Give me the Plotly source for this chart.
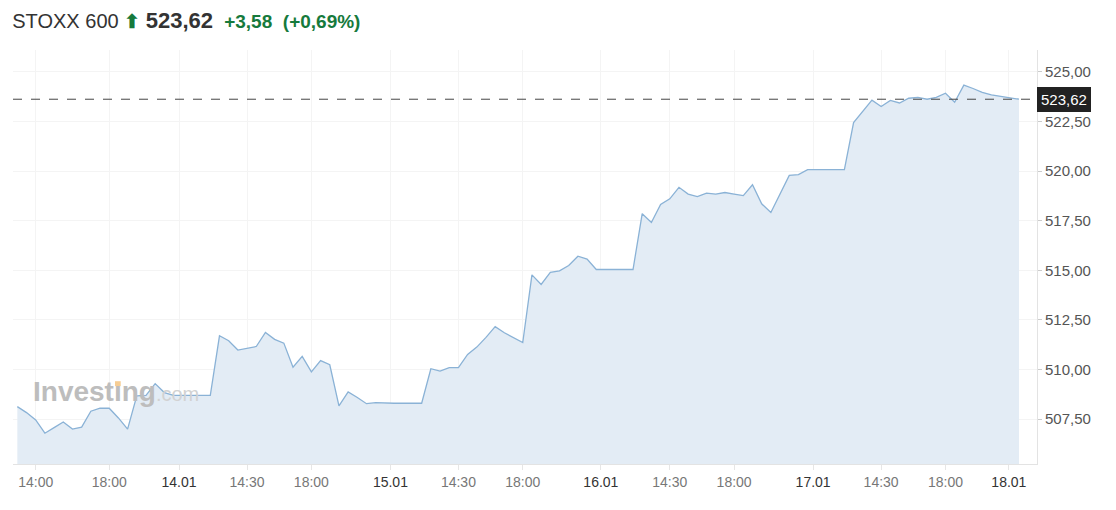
"""
STOXX 600 five-day intraday chart (30-minute bars), Investing.com style.
"""

import plotly.graph_objects as go

# 30-minute closes, oldest first
prices = [
    508.13, 507.83, 507.46, 506.79, 507.07, 507.36, 507.00, 507.10, 507.90, 508.05,
    508.05, 507.56, 507.00, 508.67, 508.70, 509.29, 508.84, 508.70, 508.70, 508.70,
    508.70, 508.70, 511.70, 511.45, 510.98, 511.06, 511.16, 511.87, 511.52, 511.33,
    510.12, 510.66, 509.88, 510.45, 510.24, 508.17, 508.87, 508.59, 508.28, 508.33,
    508.30, 508.30, 508.30, 508.30, 508.30, 510.04, 509.92, 510.10, 510.10, 510.76,
    511.13, 511.62, 512.16, 511.85, 511.60, 511.36, 514.77, 514.29, 514.90, 514.97,
    515.24, 515.71, 515.56, 515.04, 515.04, 515.04, 515.04, 515.04, 517.85, 517.41,
    518.32, 518.60, 519.18, 518.84, 518.71, 518.89, 518.84, 518.92, 518.84, 518.76,
    519.31, 518.35, 517.91, 518.86, 519.78, 519.82, 520.07, 520.07, 520.07, 520.07,
    520.07, 522.44, 523.00, 523.57, 523.25, 523.56, 523.43, 523.67, 523.71, 523.62,
    523.71, 523.92, 523.47, 524.33, 524.16, 523.96, 523.84, 523.76, 523.67, 523.62,
]
bar_index = list(range(1, len(prices) + 1))

# x-axis ticks (bar positions) and their labels
tick_pos = [3, 11, 18.6, 26, 33, 41.6, 49, 56, 64.5, 72, 79, 87.6, 95, 102, 108.9]
tick_text = ["14:00", "18:00", "14.01", "14:30", "18:00", "15.01", "14:30", "18:00",
             "16.01", "14:30", "18:00", "17.01", "14:30", "18:00", "18.01"]

name = "STOXX 600"
last = prices[-1]
change = 3.58
change_pct = 0.69

GREEN = "#167a3c"
LINE = "#8ab2d6"
FILL = "#e3ecf5"


def fmt(v, signed=False):
    s = f"{v:+.2f}" if signed else f"{v:.2f}"
    return s.replace(".", ",")


# darker labels for dates, grey for times
tick_labels = [
    f"<span style='color:#333'>{t}</span>" if "." in t else t for t in tick_text
]

fig = go.Figure()
fig.add_trace(go.Scatter(
    x=bar_index, y=prices,
    mode="lines",
    line=dict(color=LINE, width=1.3),
    fill="tozeroy",
    fillcolor=FILL,
    hoverinfo="skip",
))

# last-price reference line + label
fig.add_hline(y=last, line=dict(color="#444", width=1, dash="dash"))
fig.add_annotation(
    x=1, xref="paper", y=last, yref="y",
    xanchor="left", yanchor="middle",
    text=fmt(last), showarrow=False,
    bgcolor="#222", bordercolor="#222", borderpad=3,
    font=dict(color="white", size=15),
)

# watermark (dotless i, the dot is drawn in orange)
fig.add_annotation(
    x=0.018, xref="paper", y=0.175, yref="paper",
    xanchor="left", yanchor="middle", showarrow=False,
    text="<b>Investıng</b><span style='font-size:20px;color:#d2d2d2'>.com</span>",
    font=dict(size=28, color="#bdbdbd"),
)
fig.add_shape(
    type="rect", xref="paper", yref="paper",
    x0=0.0996, x1=0.1052, y0=0.188, y1=0.2,
    fillcolor="#f6cd94", line_width=0, layer="above",
)

title = (
    f"{name} <span style='color:{GREEN};font-size:19px'><b>⬆</b></span> "
    f"<b style='font-size:22px'>{fmt(last)}</b>  "
    f"<span style='color:{GREEN};font-size:19px'><b>{fmt(change, True)}</b>  "
    f"<b>(+{fmt(change_pct)}%)</b></span>"
)

fig.update_layout(
    width=1116, height=510,
    margin=dict(l=13, r=79, t=50, b=46),
    paper_bgcolor="white", plot_bgcolor="white",
    font=dict(family="Arial, Liberation Sans, sans-serif", color="#555"),
    separators=", ",
    showlegend=False,
    title=dict(
        text=title, x=0.011, xanchor="left", y=0.958, yanchor="middle",
        yref="container", font=dict(size=20, color="#333"),
    ),
    xaxis=dict(
        range=[0.53, 111.96],
        tickvals=tick_pos, ticktext=tick_labels,
        showgrid=True, gridcolor="#f4f4f4",
        showline=True, linecolor="#e3e3e3",
        ticks="outside", ticklen=5, tickcolor="#e6e6e6",
        tickfont=dict(size=14, color="#777"),
        zeroline=False,
    ),
    yaxis=dict(
        side="right",
        range=[505.24, 526.1],
        tick0=0, dtick=2.5, tickformat=".2f",
        showgrid=True, gridcolor="#f4f4f4",
        showline=True, linecolor="#e3e3e3",
        ticks="outside", ticklen=4, tickcolor="#ccc",
        tickfont=dict(size=15, color="#555"),
        zeroline=False,
    ),
)

fig.write_html(
    "out.html",
    config={"displayModeBar": False},
    post_script="document.body.style.margin='0';",
)
